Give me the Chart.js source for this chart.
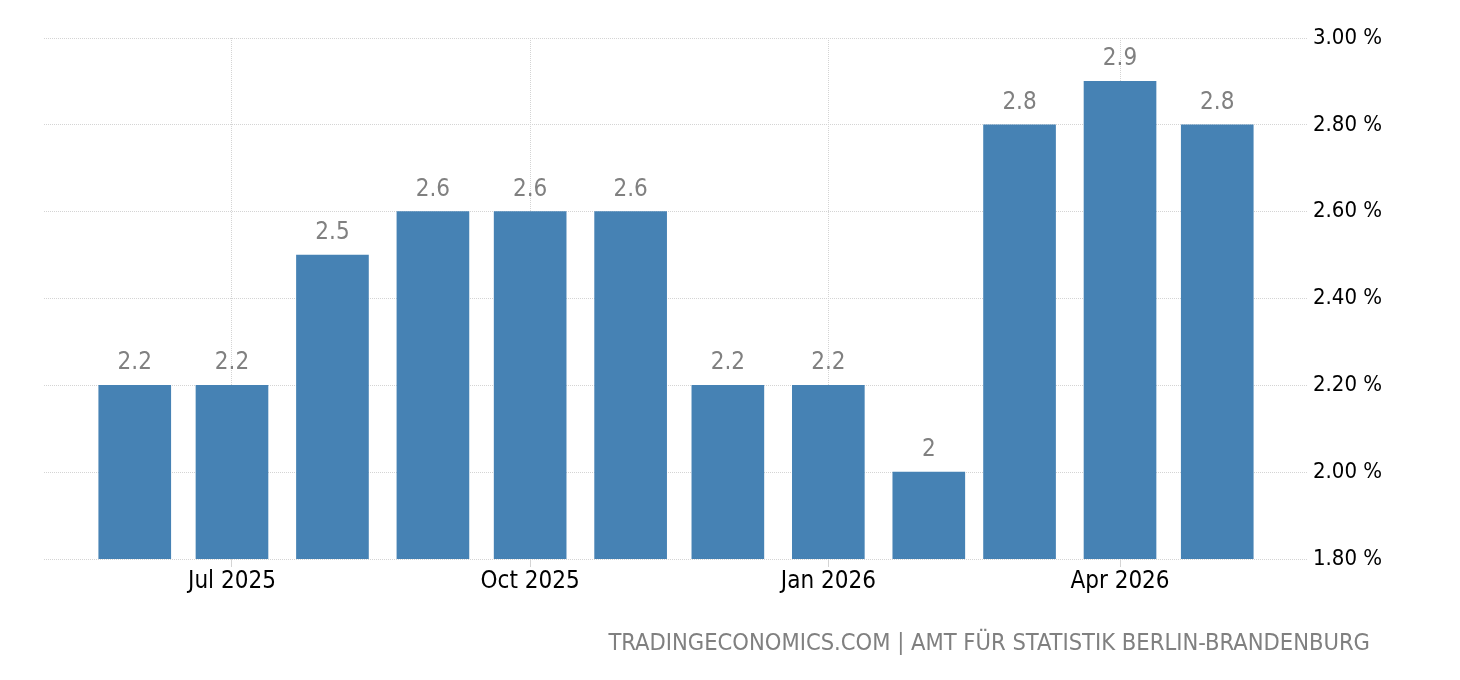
<!DOCTYPE html>
<html>
<head>
<meta charset="utf-8">
<script src="https://cdn.jsdelivr.net/npm/chart.js@4/dist/chart.umd.min.js"></script>
<style>
  body { margin: 0; background: #fff; }
  #wrap { position: relative; width: 1460px; height: 680px; }
</style>
</head>
<body>
<div id="wrap"><canvas id="myChart"></canvas></div>
<script>
// monthly values, bars sit on the first day of each month
const months = ['2025-06-01', '2025-07-01', '2025-08-01', '2025-09-01', '2025-10-01', '2025-11-01',
                '2025-12-01', '2026-01-01', '2026-02-01', '2026-03-01', '2026-04-01', '2026-05-01'];
const values = [2.2, 2.2, 2.5, 2.6, 2.6, 2.6, 2.2, 2.2, 2.0, 2.8, 2.9, 2.8];
const tickMonths = ['2025-07-01', '2025-10-01', '2026-01-01', '2026-04-01'];
const tickLabels = ['Jul 2025', 'Oct 2025', 'Jan 2026', 'Apr 2026'];
const yTicks = [1.8, 2.0, 2.2, 2.4, 2.6, 2.8, 3.0];
const sourceText = 'TRADINGECONOMICS.COM | AMT FÜR STATISTIK BERLIN-BRANDENBURG';

const FONT = '"DejaVu Sans Condensed", "DejaVu Sans", sans-serif';

// days since first month, so the x axis can be linear
const start = Date.parse(months[0]);
function toDay(s) {
    return Math.round((Date.parse(s) - start) / 86400000);
}
const tickDays = tickMonths.map(toDay);

const points = months.map(function (m, i) {
    return { x: toDay(m), y: values[i] };
});

const valueLabels = {
    id: 'valueLabels',
    afterDatasetsDraw(chart) {
        const ctx = chart.ctx;
        const meta = chart.getDatasetMeta(0);
        ctx.save();
        ctx.font = '24px ' + FONT;
        ctx.fillStyle = '#808080';
        ctx.textAlign = 'center';
        ctx.textBaseline = 'alphabetic';
        meta.data.forEach(function (bar, i) {
            ctx.fillText(String(values[i]), bar.x, bar.y - 16);
        });
        ctx.restore();
    }
};

const sourceNote = {
    id: 'sourceNote',
    afterDraw(chart) {
        const ctx = chart.ctx;
        ctx.save();
        ctx.font = '23.5px ' + FONT;
        ctx.fillStyle = '#808080';
        ctx.textAlign = 'right';
        ctx.textBaseline = 'alphabetic';
        ctx.fillText(sourceText, 1370, 650);
        ctx.restore();
    }
};

const data = {
    datasets: [{
        data: points,
        backgroundColor: '#4682b4',
        borderWidth: 0,
        barThickness: 72
    }]
};

const config = {
    type: 'bar',
    data: data,
    plugins: [valueLabels, sourceNote],
    options: {
        responsive: true,
        maintainAspectRatio: false,
        animation: false,
        layout: { padding: { left: 44, top: 38, right: 0, bottom: 0 } },
        plugins: {
            legend: { display: false },
            tooltip: { enabled: false }
        },
        scales: {
            x: {
                type: 'linear',
                offset: false,
                min: -28,
                max: 362,
                afterBuildTicks: function (scale) {
                    scale.ticks = tickDays.map(function (d) { return { value: d }; });
                },
                afterFit: function (scale) { scale.height = 121; },
                border: { display: false, dash: [1, 1] },
                grid: {
                    offset: false,
                    color: '#d4d4d4',
                    tickLength: 8,
                    tickBorderDash: []
                },
                ticks: {
                    autoSkip: false,
                    maxRotation: 0,
                    padding: 0,
                    color: '#000',
                    font: { family: FONT, size: 24 },
                    callback: function (v) {
                        const i = tickDays.indexOf(v);
                        return i >= 0 ? tickLabels[i] : '';
                    }
                }
            },
            y: {
                position: 'right',
                min: 1.8,
                max: 3.0,
                afterBuildTicks: function (scale) {
                    scale.ticks = yTicks.map(function (v) { return { value: v }; });
                },
                afterFit: function (scale) { scale.width = 152; },
                border: { display: false, dash: [1, 1] },
                grid: {
                    color: '#d4d4d4',
                    drawTicks: false
                },
                ticks: {
                    padding: 5,
                    color: '#000',
                    font: { family: FONT, size: 22 },
                    callback: function (v) { return v.toFixed(2) + ' %'; }
                }
            }
        }
    }
};

new Chart(document.getElementById('myChart'), config);
</script>
</body>
</html>
